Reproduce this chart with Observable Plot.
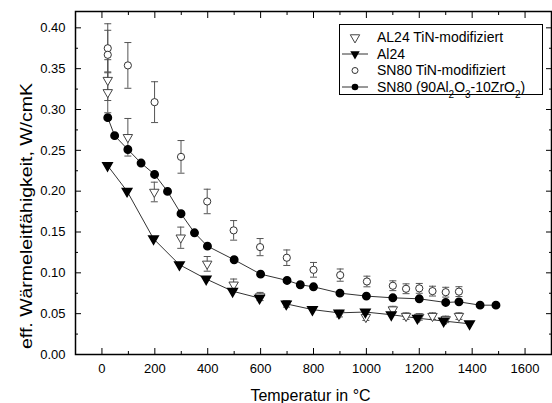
<!DOCTYPE html>
<html><head><meta charset="utf-8">
<script src="https://cdn.jsdelivr.net/npm/d3@7"></script>
<script src="https://cdn.jsdelivr.net/npm/@observablehq/plot@0.6"></script>
<style>body{margin:0;background:#fff}</style>
</head><body><div id="chart"></div>
<script>
// ---- data ----
const al24T   = [21, 95, 195, 293, 394, 494, 596, 697, 796, 896, 996, 1094, 1193, 1292, 1390];
const al24V   = [0.2315, 0.200, 0.1417, 0.110, 0.0925, 0.0775, 0.069, 0.062, 0.055, 0.051, 0.052, 0.0487, 0.0445, 0.041, 0.0376];
const al24Run = [1, 1, 1, 1, 1, 1, 1, 2, 2, 2, 2, 2, 2, 2, 2];

const al24TiNT = [22, 22, 98, 198, 298, 398, 498, 598, 698, 898, 998, 1100, 1150, 1200, 1250, 1300, 1350];
const al24TiNV = [0.336, 0.321, 0.266, 0.199, 0.143, 0.111, 0.0854, 0.071, 0.062, 0.050, 0.0457, 0.055, 0.047, 0.046, 0.047, 0.043, 0.047];
const al24TiNE = [0.025, 0.025, 0.023, 0.012, 0.013, 0.009, 0.007, 0.005, 0.004, 0.004, 0.004, 0.004, 0.004, 0.004, 0.004, 0.004, 0.004];

const sn80TiNT = [22, 22, 98, 199, 299, 398, 498, 598, 699, 800, 901, 1002, 1100, 1150, 1200, 1250, 1300, 1350];
const sn80TiNV = [0.375, 0.367, 0.354, 0.309, 0.242, 0.1874, 0.152, 0.1315, 0.1185, 0.1037, 0.0972, 0.0894, 0.0842, 0.0805, 0.081, 0.0776, 0.0763, 0.077];
const sn80TiNE = [0.030, 0.030, 0.028, 0.025, 0.020, 0.015, 0.012, 0.0105, 0.0095, 0.009, 0.0075, 0.0065, 0.006, 0.006, 0.006, 0.006, 0.006, 0.006];

const sn80T = [22, 48, 98, 148, 199, 248, 299, 350, 399, 500, 600, 700, 750, 800, 900, 1000, 1100, 1200, 1300, 1350, 1430, 1490];
const sn80V = [0.290, 0.268, 0.251, 0.2344, 0.2205, 0.1997, 0.1724, 0.149, 0.1327, 0.116, 0.0984, 0.0907, 0.0854, 0.0829, 0.0751, 0.0715, 0.0694, 0.0682, 0.0637, 0.0645, 0.0604, 0.0604];

const xMajor = [0, 200, 400, 600, 800, 1000, 1200, 1400, 1600];
const xMinor = [100, 300, 500, 700, 900, 1100, 1300, 1500];
const yMajor = [0, 0.05, 0.10, 0.15, 0.20, 0.25, 0.30, 0.35, 0.40];
const yMinor = [0.025, 0.075, 0.125, 0.175, 0.225, 0.275, 0.325, 0.375];

const xLabel = "Temperatur in °C";
const yLabel = "eff. Wärmeleitfähigkeit, W/cmK";
const legendNames = ["AL24 TiN-modifiziert", "Al24", "SN80 TiN-modifiziert", "SN80 (90Al2O3-10ZrO2)"];

// ---- tables ----
const al24 = al24T.map((t, i) => ({t, v: al24V[i], run: al24Run[i]}));
const al24TiN = al24TiNT.map((t, i) => ({t, v: al24TiNV[i], e: al24TiNE[i]}));
const sn80TiN = sn80TiNT.map((t, i) => ({t, v: sn80TiNV[i], e: sn80TiNE[i]}));
const sn80 = sn80T.map((t, i) => ({t, v: sn80V[i]}));

const cap = {draw(ctx) { ctx.moveTo(-3.5, 0); ctx.lineTo(3.5, 0); }};
const barColor = "#555";

function errorMarks(data) {
  return [
    Plot.ruleX(data, {x: "t", y1: d => d.v - d.e, y2: d => d.v + d.e, stroke: barColor, strokeWidth: 1}),
    Plot.dot(data, {x: "t", y: d => d.v + d.e, symbol: cap, stroke: barColor, strokeWidth: 1, r: 3}),
    Plot.dot(data, {x: "t", y: d => d.v - d.e, symbol: cap, stroke: barColor, strokeWidth: 1, r: 3})
  ];
}
const noText = () => "";

const chart = Plot.plot({
  width: 552, height: 403,
  marginLeft: 75, marginRight: 1, marginTop: 11, marginBottom: 49,
  x: {domain: [-100, 1700], label: null},
  y: {domain: [0, 0.42], label: null},
  style: {fontFamily: "'Liberation Sans', Arial, sans-serif", fontSize: "13px", background: "white", color: "black"},
  marks: [
    // tick labels
    Plot.axisX({ticks: xMajor, tickSize: 0, tickPadding: 9, tickFormat: d => String(d), label: null, fontSize: 13}),
    Plot.axisY({ticks: yMajor, tickSize: 0, tickPadding: 10, tickFormat: d3.format(".2f"), label: null, fontSize: 13}),
    // inward ticks on all sides
    Plot.axisX({ticks: xMajor, anchor: "bottom", tickSize: -6, tickFormat: noText, label: null}),
    Plot.axisX({ticks: xMinor, anchor: "bottom", tickSize: -3, tickFormat: noText, label: null}),
    Plot.axisX({ticks: xMajor, anchor: "top", tickSize: -6, tickFormat: noText, label: null}),
    Plot.axisX({ticks: xMinor, anchor: "top", tickSize: -3, tickFormat: noText, label: null}),
    Plot.axisY({ticks: yMajor, anchor: "left", tickSize: -6, tickFormat: noText, label: null}),
    Plot.axisY({ticks: yMinor, anchor: "left", tickSize: -3, tickFormat: noText, label: null}),
    Plot.axisY({ticks: yMajor, anchor: "right", tickSize: -6, tickFormat: noText, label: null}),
    Plot.axisY({ticks: yMinor, anchor: "right", tickSize: -3, tickFormat: noText, label: null}),
    // axis titles
    Plot.text([xLabel], {frameAnchor: "bottom", text: d => d, dy: 46, dx: -3, fontSize: 16, textAnchor: "middle"}),
    Plot.text([yLabel], {frameAnchor: "left", text: d => d, rotate: -90, dx: -49, dy: 33, fontSize: 16, textAnchor: "middle"}),
    // error bars
    ...errorMarks(sn80TiN),
    ...errorMarks(al24TiN),
    // lines
    Plot.line(sn80, {x: "t", y: "v", stroke: "#333", strokeWidth: 1}),
    Plot.line(al24, {x: "t", y: "v", z: "run", stroke: "#333", strokeWidth: 1}),
    // markers
    Plot.dot(al24TiN, {x: "t", y: "v", symbol: "triangle", rotate: 180, r: 3.5, fill: "white", stroke: "#444", strokeWidth: 1}),
    Plot.dot(al24, {x: "t", y: "v", symbol: "triangle", rotate: 180, r: 3.5, fill: "black", stroke: "black"}),
    Plot.dot(sn80TiN, {x: "t", y: "v", symbol: "circle", r: 3.6, fill: "white", stroke: "#333", strokeWidth: 1}),
    Plot.dot(sn80, {x: "t", y: "v", symbol: "circle", r: 3.7, fill: "black", stroke: "black"}),
    Plot.frame({stroke: "black", strokeWidth: 1.5})
  ]
});
document.getElementById("chart").appendChild(chart);

// stretch y-axis title to match reference length
d3.select(chart).selectAll("text").filter(function() { return this.textContent === yLabel; })
  .attr("textLength", 266).attr("lengthAdjust", "spacingAndGlyphs");

// ---- legend (inside the plot, top right) ----
const svg = d3.select(chart);
const lg = svg.append("g").attr("font-family", "'Liberation Sans', Arial, sans-serif").attr("font-size", 14)
  .attr("text-anchor", "start").attr("fill", "black");
lg.append("rect").attr("x", 339.5).attr("y", 24.5).attr("width", 203).attr("height", 70)
  .attr("fill", "white").attr("stroke", "black").attr("stroke-width", 1);
const rowY = [37.5, 54, 70.5, 87];
const symX = 355, txtX = 377;
const tri = d3.symbol(d3.symbolTriangle, Math.PI * 3.5 * 3.5)();
const circ = d3.symbol(d3.symbolCircle, Math.PI * 3.3 * 3.3)();
// row 1
lg.append("path").attr("d", tri).attr("transform", `translate(${symX},${rowY[0]}) rotate(180)`).attr("fill", "white").attr("stroke", "#444");
// row 2
lg.append("line").attr("x1", 342).attr("x2", 368).attr("y1", rowY[1]).attr("y2", rowY[1]).attr("stroke", "#333");
lg.append("path").attr("d", tri).attr("transform", `translate(${symX},${rowY[1]}) rotate(180)`).attr("fill", "black");
// row 3
lg.append("path").attr("d", d3.symbol(d3.symbolCircle, Math.PI * 3 * 3)()).attr("transform", `translate(${symX},${rowY[2]})`).attr("fill", "white").attr("stroke", "#333");
// row 4
lg.append("line").attr("x1", 342).attr("x2", 368).attr("y1", rowY[3]).attr("y2", rowY[3]).attr("stroke", "#333");
lg.append("path").attr("d", circ).attr("transform", `translate(${symX},${rowY[3]})`).attr("fill", "black");
// texts
for (let i = 0; i < 3; i++) {
  lg.append("text").attr("x", txtX).attr("y", rowY[i]).attr("dy", "0.35em").text(legendNames[i]);
}
const t4 = lg.append("text").attr("x", txtX).attr("y", rowY[3]).attr("dy", "0.35em");
const parts = [["SN80 (90Al", false], ["2", true], ["O", false], ["3", true], ["-10ZrO", false], ["2", true], [")", false]];
for (const [s, sub] of parts) {
  const ts = t4.append("tspan").text(s);
  if (sub) ts.attr("font-size", 10).attr("baseline-shift", "sub");
}
</script>
</body></html>
